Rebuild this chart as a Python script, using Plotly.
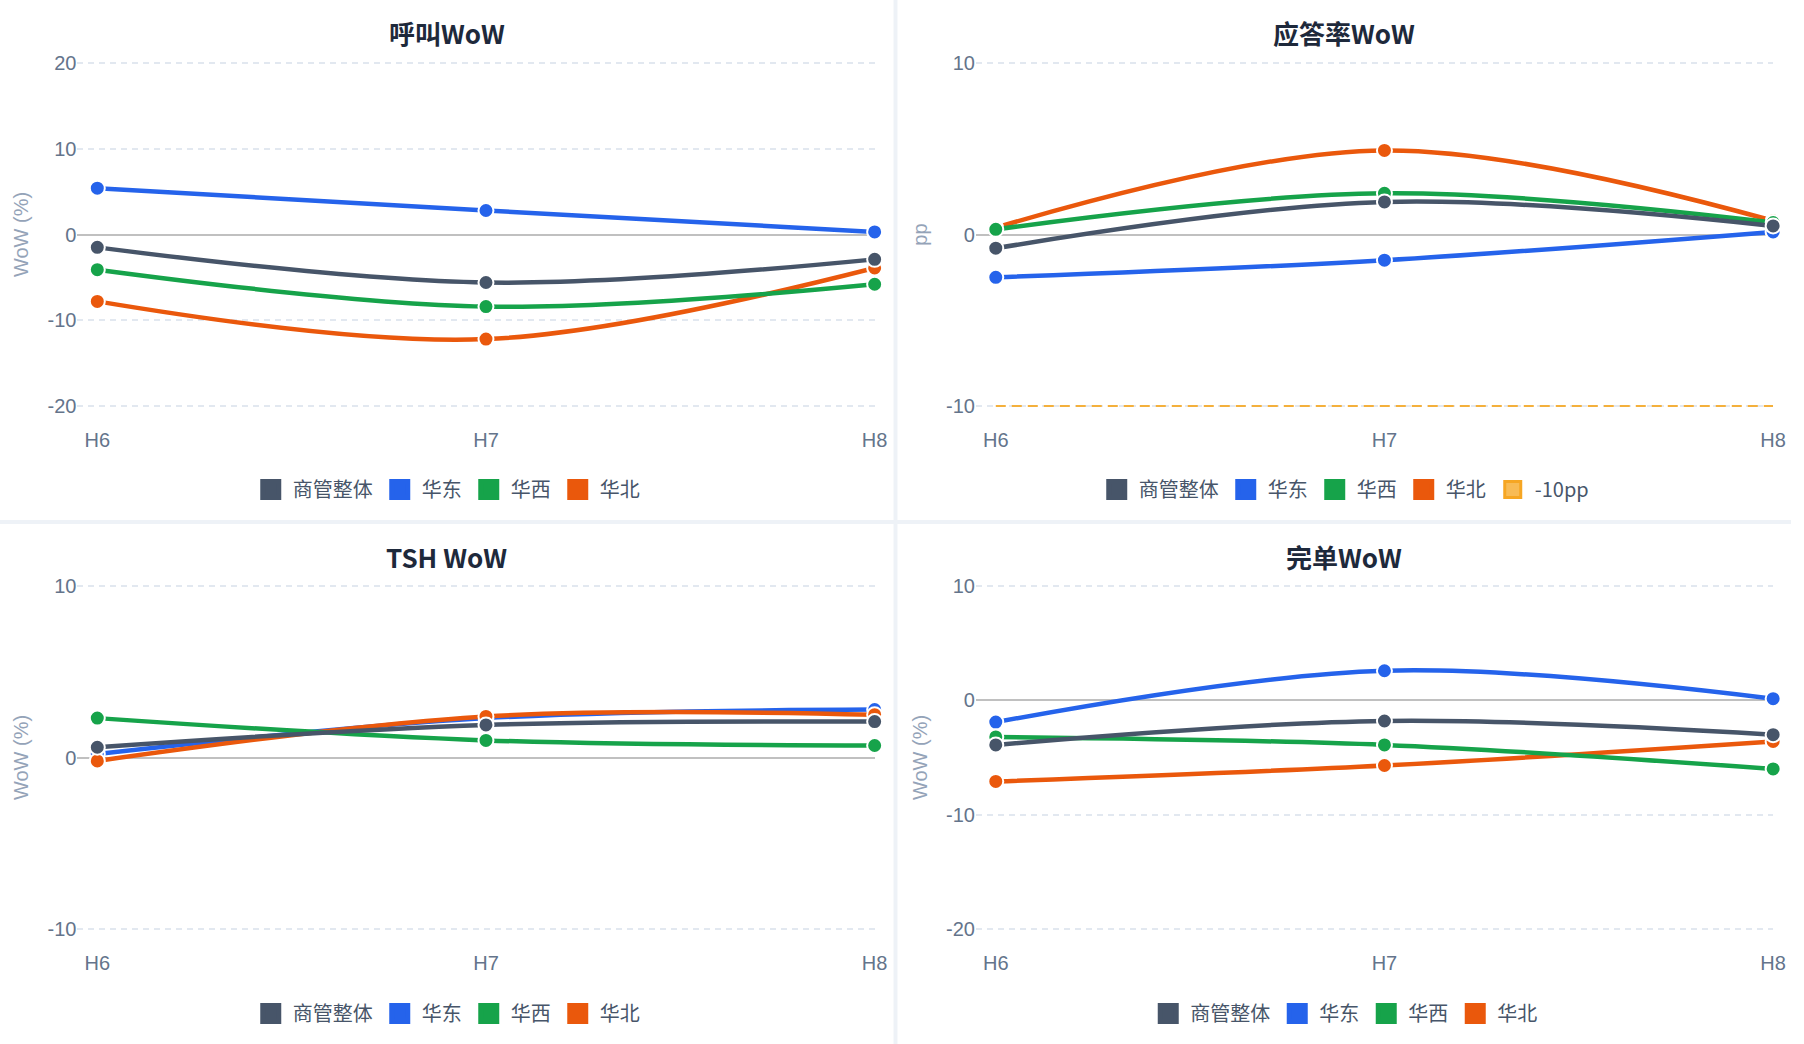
import plotly.graph_objects as go

# ---------------- data ----------------
hours = ["H6", "H7", "H8"]
series_names = ["商管整体", "华东", "华西", "华北"]

# 呼叫WoW (%)
call_overall = [-1.5, -5.6, -2.9]
call_east = [5.4, 2.8, 0.3]
call_west = [-4.1, -8.4, -5.8]
call_north = [-7.8, -12.2, -3.9]

# 应答率WoW (pp)
ans_overall = [-0.8, 1.9, 0.5]
ans_east = [-2.5, -1.5, 0.15]
ans_west = [0.3, 2.4, 0.7]
ans_north = [0.4, 4.9, 0.8]
ans_threshold = [-10, -10, -10]
threshold_name = "-10pp"

# TSH WoW (%)
tsh_overall = [0.6, 1.9, 2.1]
tsh_east = [0.2, 2.3, 2.8]
tsh_west = [2.3, 1.0, 0.7]
tsh_north = [-0.2, 2.4, 2.5]

# 完单WoW (%)
done_overall = [-3.9, -1.8, -3.0]
done_east = [-1.9, 2.6, 0.15]
done_west = [-3.2, -3.9, -6.0]
done_north = [-7.1, -5.7, -3.6]

panel_titles = ["呼叫WoW", "应答率WoW", "TSH WoW", "完单WoW"]
panel_ytitles = ["WoW (%)", "pp", "WoW (%)", "WoW (%)"]
panel_ranges = [[-20, 20], [-10, 10], [-10, 10], [-20, 10]]
panel_ticks = [[-20, -10, 0, 10, 20], [-10, 0, 10], [-10, 0, 10], [-20, -10, 0, 10]]

# ---------------- style ----------------
colors = {"商管整体": "#475569", "华东": "#2563eb", "华西": "#16a34a", "华北": "#ea580c"}
draw_order = ["华东", "华北", "华西", "商管整体"]
FONT = "Liberation Sans, Arial, Noto Sans CJK SC, sans-serif"
TITLE_FONT = "Noto Sans CJK SC, Liberation Sans, sans-serif"
W, H = 1804, 1044

panels = [
    dict(zip(series_names, [call_overall, call_east, call_west, call_north])),
    dict(zip(series_names, [ans_overall, ans_east, ans_west, ans_north])),
    dict(zip(series_names, [tsh_overall, tsh_east, tsh_west, tsh_north])),
    dict(zip(series_names, [done_overall, done_east, done_west, done_north])),
]

# pixel geometry (x0, x1, ytop, ybottom) of each plot area
geom = [
    (78, 881, 63, 406),
    (983, 1786, 63, 406),
    (78, 881, 586.3, 928.7),
    (983, 1786, 586.3, 928.7),
]
panel_centers = [(450, 0), (1354, 0), (450, 524), (1354, 524)]

fig = go.Figure()
layout = dict(
    width=W, height=H,
    margin=dict(l=0, r=0, t=0, b=0),
    paper_bgcolor="white",
    plot_bgcolor="rgba(0,0,0,0)",
    showlegend=True,
    font=dict(family=FONT, color="#64748b", size=20),
    annotations=[],
    shapes=[
        dict(type="rect", xref="paper", yref="paper", x0=900 / W, x1=904 / W, y0=0, y1=1,
             fillcolor="#eef2f7", line_width=0, layer="below"),
        dict(type="rect", xref="paper", yref="paper", x0=0, x1=1, y0=1 - 524 / H, y1=1 - 520 / H,
             fillcolor="#eef2f7", line_width=0, layer="below"),
    ],
)

PAD = 3.0  # px of padding so gridlines at range ends are drawn

for i, pdata in enumerate(panels):
    n = i + 1
    xa = "x" if n == 1 else f"x{n}"
    ya = "y" if n == 1 else f"y{n}"
    lg = "legend" if n == 1 else f"legend{n}"
    x0, x1, yt, yb = geom[i]
    unit = (x1 - 20 - x0) / 2.0
    xr = [-20 / unit, 2]
    lo, hi = panel_ranges[i]
    ppu = (yb - yt) / (hi - lo)
    eps = PAD / ppu

    for name in draw_order:
        fig.add_trace(go.Scatter(
            x=hours, y=pdata[name], name=name, mode="lines+markers",
            xaxis=xa, yaxis=ya, showlegend=False, cliponaxis=False,
            line=dict(color=colors[name], width=4.5, shape="spline", smoothing=1),
            marker=dict(size=15, color=colors[name], line=dict(color="white", width=2)),
        ))
    if i == 1:
        fig.add_trace(go.Scatter(
            x=hours, y=ans_threshold, name=threshold_name, mode="lines",
            xaxis=xa, yaxis=ya, showlegend=False, cliponaxis=False,
            line=dict(color="#f4b03c", width=2, dash="10px,6px"),
        ))
    for name in series_names:
        fig.add_trace(go.Scatter(
            x=[None], y=[None], name=name, mode="markers", xaxis=xa, yaxis=ya,
            legend=lg, showlegend=True,
            marker=dict(symbol="square", size=16, color=colors[name],
                        line=dict(color=colors[name], width=5)),
        ))
    if i == 1:
        fig.add_trace(go.Scatter(
            x=[None], y=[None], name=threshold_name, mode="markers", xaxis=xa, yaxis=ya,
            legend=lg, showlegend=True,
            marker=dict(symbol="square", size=16, color="#f8bb55",
                        line=dict(color="#f6a623", width=3)),
        ))

    xkey = "xaxis" if n == 1 else f"xaxis{n}"
    ykey = "yaxis" if n == 1 else f"yaxis{n}"
    layout[xkey] = dict(
        domain=[x0 / W, x1 / W], anchor=ya, type="category",
        categoryorder="array", categoryarray=hours, range=xr,
        showgrid=False, zeroline=False, showline=False,
        ticks="outside", ticklen=16 - PAD, tickcolor="rgba(0,0,0,0)",
        tickfont=dict(size=20, color="#64748b", family=FONT),
        fixedrange=True,
    )
    layout[ykey] = dict(
        domain=[1 - (yb + PAD) / H, 1 - (yt - PAD) / H], anchor=xa,
        range=[lo - eps, hi + eps],
        tickmode="array", tickvals=panel_ticks[i],
        ticktext=[str(v) for v in panel_ticks[i]],
        showgrid=True, gridcolor="#e2e8f0", gridwidth=1.5, griddash="6px,5px",
        zeroline=True, zerolinecolor="#c0c0c0", zerolinewidth=2,
        showline=False, ticks="", automargin=False,
        tickfont=dict(size=20, color="#64748b", family=FONT),
        title=dict(text=panel_ytitles[i], font=dict(size=20, color="#94a3b8", family=FONT),
                   standoff=13),
        fixedrange=True,
    )
    cx, oy = panel_centers[i]
    layout[lg] = dict(
        orientation="h", x=cx / W, xanchor="center",
        y=1 - (oy + 489.5) / H, yanchor="middle",
        font=dict(size=20, color="#475569", family=TITLE_FONT),
        itemwidth=34,
        bgcolor="rgba(0,0,0,0)", itemclick=False, itemdoubleclick=False,
    )
    layout["annotations"].append(dict(
        text=f"<b>{panel_titles[i]}</b>", xref="paper", yref="paper",
        x=cx / W, y=1 - (oy + 32) / H, xanchor="center", yanchor="middle",
        showarrow=False, font=dict(size=26, color="#1e293b", family=TITLE_FONT),
    ))

fig.update_layout(**layout)
fig.write_html(
    "out.html",
    config={"displayModeBar": False},
    post_script=(
        "document.documentElement.style.margin='0';"
        "document.documentElement.style.overflow='hidden';"
        "document.body.style.margin='0';document.body.style.overflow='hidden';"
    ),
)
